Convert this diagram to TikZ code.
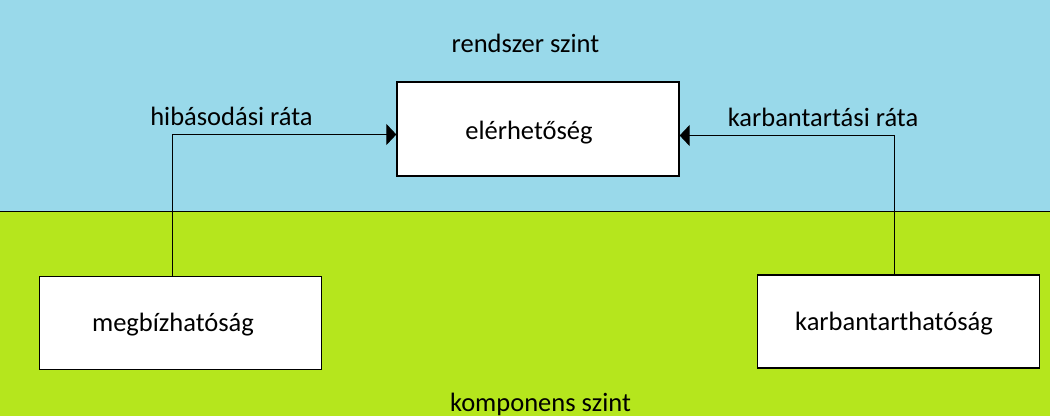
\documentclass[tikz,border=0pt]{standalone}
\usepackage{fontspec}
\setmainfont{Carlito}
\usetikzlibrary{arrows.meta}
\definecolor{skyband}{HTML}{99D9EA}
\definecolor{grassband}{HTML}{B5E61D}
\tikzset{
  boxnode/.style={draw=black, line width=1.3pt, fill=white, rectangle, inner sep=0pt},
  txt/.style={font=\fontsize{26.5}{30}\selectfont, anchor=base, inner sep=0pt, text=black},
  conn/.style={line width=1pt, draw=black, -{Triangle[length=10pt,width=21pt]}},
}
\begin{document}
\begin{tikzpicture}[x=1pt,y=-1pt]
\useasboundingbox (0,0) rectangle (1050,416);
\fill[skyband] (0,0) rectangle (1050,211);
\fill[grassband] (0,211) rectangle (1050,416);
\draw[line width=1pt] (0,211) -- (1050,211);

\node[boxnode, minimum width=282pt, minimum height=94pt] (eler) at (538,129) {};
\node[boxnode, minimum width=282pt, minimum height=93pt] (meg) at (180.3,323.3) {};
\node[boxnode, minimum width=282pt, minimum height=93pt] (karb) at (898.3,321.5) {};

\node[txt] (telr) at (529,139) {elérhetőség};
\node[txt] (tmeg) at (173,331) {megbízhatóság};
\node[txt] (tkarb) at (894,330) {karbantarthatóság};

\node[txt] (rsz) at (525.5,52) {rendszer szint};
\node[txt] (ksz) at (540.5,411) {komponens szint};
\node[txt] (hib) at (231.5,125) {hibásodási ráta};
\node[txt] (kr) at (823,126.5) {karbantartási ráta};

\coordinate (c1) at (172.5,134.5);
\coordinate (c2) at (894.5,135.5);
\draw[conn] (meg.north -| c1) -- (c1) -- (c1 -| eler.west);
\draw[conn] (karb.north -| c2) -- (c2) -- (c2 -| eler.east);
\end{tikzpicture}
\end{document}
